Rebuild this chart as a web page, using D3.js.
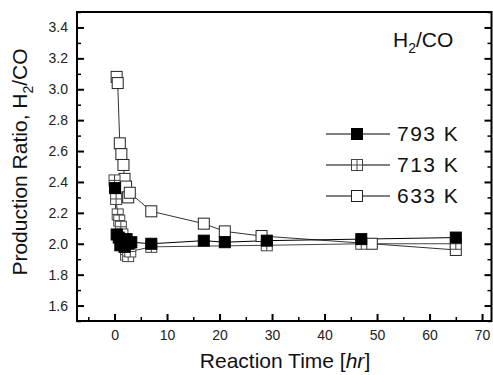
<!DOCTYPE html>
<html>
<head>
<meta charset="utf-8">
<script src="https://cdn.jsdelivr.net/npm/d3@7"></script>
<style>
  body { margin: 0; background: #fff; }
  svg { display: block; font-family: "Liberation Sans", Arial, sans-serif; }
</style>
</head>
<body>
<svg id="chart" width="493" height="375"></svg>
<script>
// reaction time (hr) and H2/CO ratio for each temperature
const t633 = [0.4, 0.6, 1.0, 1.3, 1.7, 1.9, 2.2, 2.6, 2.9, 7.0, 17.0, 21.0, 28.0, 49.0, 65.0];
const v633 = [3.08, 3.04, 2.65, 2.58, 2.51, 2.42, 2.37, 2.30, 2.33, 2.21, 2.13, 2.08, 2.05, 2.00, 1.96];

const t713 = [0.0, 0.3, 0.6, 0.9, 1.2, 1.5, 1.8, 2.2, 2.6, 3.0, 7.0, 29.0, 47.0, 65.0];
const v713 = [2.41, 2.29, 2.19, 2.15, 2.11, 2.06, 2.01, 1.93, 1.92, 1.95, 1.98, 1.99, 2.00, 2.00];

const t793 = [0.1, 0.4, 0.8, 1.1, 1.5, 1.9, 2.3, 2.7, 3.2, 7.0, 17.0, 21.0, 29.0, 47.0, 65.0];
const v793 = [2.36, 2.06, 2.04, 1.99, 2.02, 1.98, 2.03, 2.00, 2.01, 2.00, 2.02, 2.01, 2.02, 2.03, 2.04];

const seriesNames = ["793 K", "713 K", "633 K"];
const xTicks = [0, 10, 20, 30, 40, 50, 60, 70];
const yTicks = [1.6, 1.8, 2.0, 2.2, 2.4, 2.6, 2.8, 3.0, 3.2, 3.4];

const width = 493, height = 375;
const margin = { top: 12, right: 1.5, bottom: 54, left: 77 };

const svg = d3.select("#chart");

const x = d3.scaleLinear()
  .domain([-7.15, 71.8])
  .range([margin.left, width - margin.right]);

const y = d3.scaleLinear()
  .domain([1.5, 3.5])
  .range([height - margin.bottom, margin.top]);

const zip = (ts, vs) => ts.map((t, i) => ({ t: t, v: vs[i] }));
const d633 = zip(t633, v633);
const d713 = zip(t713, v713);
const d793 = zip(t793, v793);

const line = d3.line().x(d => x(d.t)).y(d => y(d.v));

// frame
svg.append("rect")
  .attr("x", margin.left)
  .attr("y", margin.top)
  .attr("width", width - margin.right - margin.left)
  .attr("height", height - margin.bottom - margin.top)
  .attr("fill", "none")
  .attr("stroke", "#000")
  .attr("stroke-width", 2);

// bottom axis, ticks pointing inside
const xAxis = svg.append("g")
  .attr("transform", "translate(0," + (height - margin.bottom) + ")")
  .call(d3.axisBottom(x).tickValues(xTicks).tickSize(-7).tickPadding(9).tickFormat(d3.format("d")));
xAxis.select(".domain").remove();
xAxis.selectAll(".tick line").attr("stroke-width", 2);
xAxis.selectAll(".tick text").attr("font-size", 14).attr("fill", "#222").attr("font-family", "Liberation Sans, Arial, sans-serif");

svg.append("g")
  .attr("transform", "translate(0," + (height - margin.bottom) + ")")
  .call(d3.axisBottom(x).tickValues(d3.range(-5, 71, 10)).tickSize(-4).tickFormat(""))
  .call(g => g.select(".domain").remove())
  .selectAll(".tick line").attr("stroke-width", 1.5);

// left axis
const yAxis = svg.append("g")
  .attr("transform", "translate(" + margin.left + ",0)")
  .call(d3.axisLeft(y).tickValues(yTicks).tickSize(-7).tickPadding(9).tickFormat(d3.format(".1f")));
yAxis.select(".domain").remove();
yAxis.selectAll(".tick line").attr("stroke-width", 2);
yAxis.selectAll(".tick text").attr("font-size", 14).attr("fill", "#222").attr("font-family", "Liberation Sans, Arial, sans-serif");

const yMinor = d3.range(1.5, 3.51, 0.2).map(v => +v.toFixed(1));
svg.append("g")
  .attr("transform", "translate(" + margin.left + ",0)")
  .call(d3.axisLeft(y).tickValues(yMinor).tickSize(-4).tickFormat(""))
  .call(g => g.select(".domain").remove())
  .selectAll(".tick line").attr("stroke-width", 1.5);

// right axis ticks
svg.append("g")
  .attr("transform", "translate(" + (width - margin.right) + ",0)")
  .call(d3.axisRight(y).tickValues(yTicks).tickSize(-7).tickFormat(""))
  .call(g => g.select(".domain").remove())
  .selectAll(".tick line").attr("stroke-width", 2);
svg.append("g")
  .attr("transform", "translate(" + (width - margin.right) + ",0)")
  .call(d3.axisRight(y).tickValues(yMinor).tickSize(-4).tickFormat(""))
  .call(g => g.select(".domain").remove())
  .selectAll(".tick line").attr("stroke-width", 1.5);

// series lines
svg.append("path").datum(d633).attr("d", line)
  .attr("fill", "none").attr("stroke", "#333").attr("stroke-width", 1);
svg.append("path").datum(d713).attr("d", line)
  .attr("fill", "none").attr("stroke", "#444").attr("stroke-width", 1);
svg.append("path").datum(d793).attr("d", line)
  .attr("fill", "none").attr("stroke", "#000").attr("stroke-width", 1);

const S = 11;

function openSquare(g, cx, cy) {
  g.append("rect")
    .attr("x", cx - S / 2).attr("y", cy - S / 2)
    .attr("width", S).attr("height", S)
    .attr("fill", "#fff").attr("stroke", "#222").attr("stroke-width", 1);
}
function crossSquare(g, cx, cy) {
  g.append("rect")
    .attr("x", cx - S / 2).attr("y", cy - S / 2)
    .attr("width", S).attr("height", S)
    .attr("fill", "#fff").attr("stroke", "#444").attr("stroke-width", 1);
  g.append("path")
    .attr("d", `M${cx - S / 2},${cy}H${cx + S / 2}M${cx},${cy - S / 2}V${cy + S / 2}`)
    .attr("stroke", "#444").attr("stroke-width", 1);
}
function filledSquare(g, cx, cy) {
  g.append("rect")
    .attr("x", cx - S / 2).attr("y", cy - S / 2)
    .attr("width", S).attr("height", S)
    .attr("fill", "#000").attr("stroke", "#000").attr("stroke-width", 1);
}

const mk633 = svg.append("g");
d633.forEach(d => openSquare(mk633, x(d.t), y(d.v)));
const mk713 = svg.append("g");
d713.forEach(d => crossSquare(mk713, x(d.t), y(d.v)));
const mk793 = svg.append("g");
d793.forEach(d => filledSquare(mk793, x(d.t), y(d.v)));

// legend
const legendRows = [134, 165, 196];
const markerFns = [filledSquare, crossSquare, openSquare];
const legend = svg.append("g");
seriesNames.forEach((name, i) => {
  const ly = legendRows[i];
  legend.append("line")
    .attr("x1", 326).attr("x2", 390).attr("y1", ly).attr("y2", ly)
    .attr("stroke", "#000").attr("stroke-width", 1);
  markerFns[i](legend, 357, ly);
  legend.append("text")
    .attr("x", 397).attr("y", ly + 7)
    .attr("font-size", 21)
    .attr("letter-spacing", 1.5)
    .attr("fill", "#111")
    .text(name);
});

// title H2/CO
const title = svg.append("text")
  .attr("x", 393).attr("y", 47)
  .attr("font-size", 21)
  .attr("fill", "#111");
title.append("tspan").text("H");
title.append("tspan").attr("font-size", 14).attr("dy", 6).text("2");
title.append("tspan").attr("dy", -6).text("/CO");

// axis titles
const xlab = svg.append("text")
  .attr("x", 285).attr("y", 368)
  .attr("text-anchor", "middle")
  .attr("font-size", 21)
  .attr("fill", "#111");
xlab.append("tspan").text("Reaction Time [");
xlab.append("tspan").attr("font-style", "italic").text("hr");
xlab.append("tspan").text("]");

const ylab = svg.append("text")
  .attr("transform", "translate(27,162) rotate(-90)")
  .attr("text-anchor", "middle")
  .attr("font-size", 21)
  .attr("fill", "#111");
ylab.append("tspan").text("Production Ratio, H");
ylab.append("tspan").attr("font-size", 14).attr("dy", 6).text("2");
ylab.append("tspan").attr("dy", -6).text("/CO");
</script>
</body>
</html>
